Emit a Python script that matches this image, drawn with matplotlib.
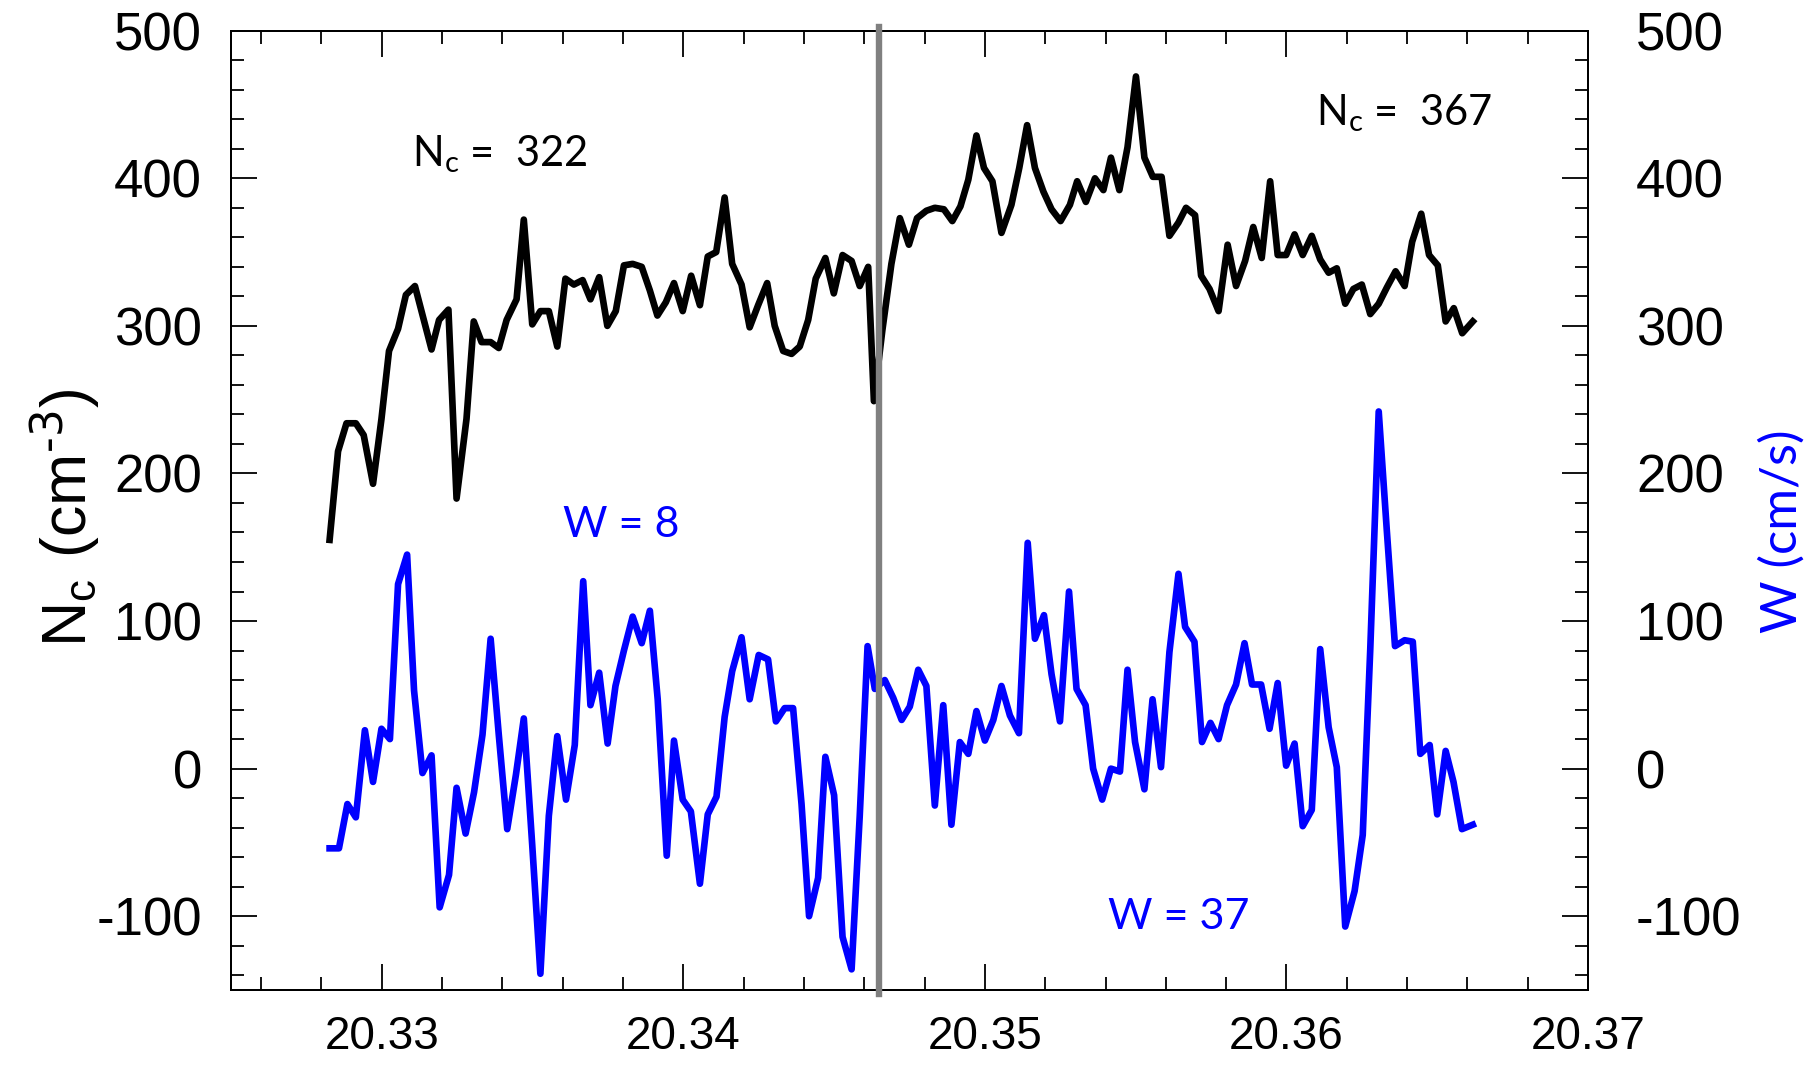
import matplotlib
matplotlib.use("Agg")
import matplotlib.pyplot as plt
from matplotlib.ticker import MultipleLocator

plt.rcParams['font.family'] = ['Liberation Sans', 'DejaVu Sans']
plt.rcParams['mathtext.default'] = 'regular'

# Nc (cm^-3), left axis
nc_time = [20.32827, 20.32855, 20.32883, 20.32914, 20.32940, 20.32971, 20.32999, 20.33024,
           20.33054, 20.33080, 20.33110, 20.33137, 20.33165, 20.33190, 20.33221, 20.33248,
           20.33281, 20.33305, 20.33331, 20.33361, 20.33388, 20.33414, 20.33447, 20.33471,
           20.33499, 20.33526, 20.33554, 20.33582, 20.33609, 20.33637, 20.33666, 20.33692,
           20.33721, 20.33748, 20.33776, 20.33803, 20.33832, 20.33862, 20.33889, 20.33914,
           20.33942, 20.33969, 20.33998, 20.34026, 20.34055, 20.34081, 20.34109, 20.34137,
           20.34162, 20.34193, 20.34220, 20.34248, 20.34278, 20.34303, 20.34331, 20.34359,
           20.34386, 20.34414, 20.34439, 20.34471, 20.34499, 20.34528, 20.34558, 20.34585,
           20.34613, 20.34632, 20.34660, 20.34690, 20.34718, 20.34748, 20.34775, 20.34806,
           20.34834, 20.34864, 20.34892, 20.34919, 20.34945, 20.34972, 20.34997, 20.35025,
           20.35055, 20.35088, 20.35114, 20.35140, 20.35166, 20.35194, 20.35221, 20.35251,
           20.35282, 20.35306, 20.35335, 20.35365, 20.35393, 20.35418, 20.35446, 20.35473,
           20.35501, 20.35529, 20.35557, 20.35586, 20.35612, 20.35642, 20.35667, 20.35697,
           20.35717, 20.35745, 20.35775, 20.35805, 20.35833, 20.35863, 20.35890, 20.35918,
           20.35946, 20.35971, 20.35999, 20.36027, 20.36054, 20.36084, 20.36112, 20.36140,
           20.36167, 20.36195, 20.36222, 20.36250, 20.36278, 20.36306, 20.36333, 20.36362,
           20.36392, 20.36417, 20.36447, 20.36473, 20.36502, 20.36528, 20.36555, 20.36583,
           20.36618]
nc_vals = [155, 215, 234, 234, 226, 193, 237, 283,
           298, 321, 327, 306, 284, 304, 311, 183,
           237, 303, 289, 289, 285, 304, 318, 372,
           301, 310, 310, 286, 332, 328, 331, 318,
           333, 300, 310, 341, 342, 340, 324, 307,
           316, 329, 310, 334, 314, 347, 350, 387,
           342, 328, 299, 314, 329, 300, 283, 281,
           286, 304, 332, 346, 322, 348, 344, 327,
           340, 249, 297, 342, 373, 355, 373, 378,
           380, 379, 371, 381, 399, 429, 407, 398,
           363, 382, 407, 436, 407, 391, 379, 371,
           382, 398, 384, 400, 392, 414, 392, 421,
           469, 414, 401, 401, 361, 370, 380, 375,
           334, 325, 310, 355, 327, 344, 367, 346,
           398, 348, 348, 362, 348, 361, 345, 336,
           339, 315, 325, 328, 308, 315, 326, 337,
           327, 357, 376, 348, 341, 303, 312, 295,
           303]

# W (cm/s), right axis
w_time = [20.32827, 20.32858, 20.32886, 20.32914, 20.32944, 20.32971, 20.32999, 20.33027,
          20.33054, 20.33084, 20.33107, 20.33135, 20.33165, 20.33192, 20.33223, 20.33248,
          20.33278, 20.33306, 20.33334, 20.33361, 20.33388, 20.33416, 20.33445, 20.33471,
          20.33499, 20.33526, 20.33554, 20.33582, 20.33611, 20.33640, 20.33668, 20.33692,
          20.33721, 20.33749, 20.33775, 20.33803, 20.33832, 20.33862, 20.33889, 20.33915,
          20.33945, 20.33969, 20.33998, 20.34025, 20.34055, 20.34081, 20.34110, 20.34137,
          20.34162, 20.34193, 20.34220, 20.34250, 20.34281, 20.34307, 20.34336, 20.34364,
          20.34392, 20.34417, 20.34447, 20.34471, 20.34500, 20.34528, 20.34558, 20.34585,
          20.34611, 20.34635, 20.34668, 20.34696, 20.34724, 20.34751, 20.34779, 20.34806,
          20.34834, 20.34862, 20.34889, 20.34917, 20.34945, 20.34972, 20.35000, 20.35028,
          20.35055, 20.35083, 20.35113, 20.35142, 20.35166, 20.35196, 20.35221, 20.35249,
          20.35279, 20.35304, 20.35334, 20.35359, 20.35389, 20.35418, 20.35448, 20.35473,
          20.35498, 20.35529, 20.35556, 20.35584, 20.35612, 20.35642, 20.35664, 20.35695,
          20.35720, 20.35748, 20.35775, 20.35803, 20.35833, 20.35861, 20.35886, 20.35916,
          20.35944, 20.35971, 20.35999, 20.36027, 20.36054, 20.36084, 20.36112, 20.36140,
          20.36167, 20.36195, 20.36226, 20.36253, 20.36278, 20.36306, 20.36333, 20.36360,
          20.36392, 20.36419, 20.36444, 20.36475, 20.36500, 20.36528, 20.36554, 20.36582,
          20.36618]
w_vals = [-54, -54, -24, -33, 26, -9, 27, 20,
          125, 145, 53, -3, 9, -94, -72, -13,
          -44, -16, 23, 88, 23, -41, -4, 34,
          -52, -139, -32, 22, -21, 16, 127, 43,
          65, 17, 56, 80, 103, 85, 107, 47,
          -59, 19, -21, -29, -78, -31, -19, 35,
          66, 89, 47, 77, 74, 32, 41, 41,
          -24, -100, -74, 8, -18, -114, -136, -32,
          83, 54, 60, 48, 33, 42, 67, 56,
          -25, 43, -38, 18, 10, 39, 19, 33,
          56, 36, 24, 153, 88, 104, 64, 32,
          120, 54, 43, 0, -21, 0, -2, 67,
          18, -14, 47, 1, 79, 132, 96, 86,
          18, 31, 20, 43, 57, 85, 57, 57,
          27, 58, 2, 17, -39, -28, 81, 28,
          1, -107, -83, -45, 81, 242, 161, 83,
          87, 86, 10, 16, -31, 12, -9, -41,
          -38]

split_time = 20.3465
xtick_vals = [20.33, 20.34, 20.35, 20.36, 20.37]
xtick_labels = ['20.33', '20.34', '20.35', '20.36', '20.37']
ytick_vals = [-100, 0, 100, 200, 300, 400, 500]
ytick_labels = ['-100', '0', '100', '200', '300', '400', '500']

fig = plt.figure(figsize=(18.19, 10.65), dpi=100)
ax = fig.add_axes([0.12699, 0.07042, 0.74601, 0.90075])
ax2 = ax.twinx()

ax.plot(nc_time, nc_vals, color='black', lw=4.8)
ax2.plot(w_time, w_vals, color='blue', lw=4.8)
ax2.axvline(split_time, ymin=-0.004, ymax=1.004, color='#808080', lw=4.6, clip_on=False, zorder=5)

for a in (ax, ax2):
    a.set_xlim(20.325, 20.370)
    a.set_ylim(-150, 500)
    a.yaxis.set_minor_locator(MultipleLocator(20))
    for s in a.spines.values():
        s.set_linewidth(1.4)

ax.set_xticks(xtick_vals, xtick_labels)
ax.xaxis.set_minor_locator(MultipleLocator(0.002))
ax.set_yticks(ytick_vals, ytick_labels)
ax2.set_yticks(ytick_vals, ytick_labels)

ax.tick_params(which='both', direction='in', top=True, right=False, width=1.3)
ax.tick_params(which='major', length=18.5)
ax.tick_params(which='minor', length=9.5)
ax.tick_params(axis='y', labelsize=38, pad=21)
ax.tick_params(axis='x', labelsize=33, pad=18)
ax2.tick_params(which='both', direction='in', width=1.3)
ax2.tick_params(which='major', length=18.5, labelsize=38, pad=34.5)
ax2.tick_params(which='minor', length=9.5)

ax.set_ylabel('$N_c\\ (cm^{\\text{-3}})$', fontsize=45)
ax.yaxis.set_label_coords(-0.094, 0.492)
ax2.set_ylabel('W (cm/s)', color='blue', fontsize=36.5, family=['Lato'])
ax2.yaxis.set_label_coords(1.126, 0.478)

ax.text(20.3310, 408, '$N_c$ =  322', fontsize=30, family=['Lato'], ha='left', va='baseline')
ax.text(20.36098, 436, '$N_c$ =  367', fontsize=30, family=['Lato'], ha='left', va='baseline')
ax.text(20.33602, 157, 'W = 8', fontsize=31, color='blue', family=['Lato'], ha='left', va='baseline')
ax.text(20.35409, -109, 'W = 37', fontsize=31, color='blue', family=['Lato'], ha='left', va='baseline')

fig.savefig('out.png', dpi=100)
